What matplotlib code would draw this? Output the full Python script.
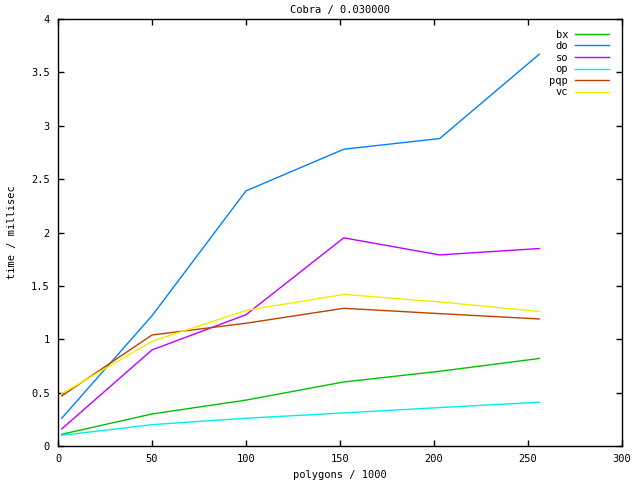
import matplotlib
matplotlib.use("Agg")
import matplotlib.pyplot as plt

# --- data ---
polygons = [2, 50, 100, 152, 203, 256]
series_names = ["bx", "do", "so", "op", "pqp", "vc"]
bx = [0.11, 0.30, 0.43, 0.60, 0.70, 0.82]
do = [0.26, 1.22, 2.39, 2.78, 2.88, 3.67]
so = [0.16, 0.90, 1.23, 1.95, 1.79, 1.85]
op = [0.10, 0.20, 0.26, 0.31, 0.36, 0.41]
pqp = [0.47, 1.04, 1.15, 1.29, 1.24, 1.19]
vc = [0.49, 0.98, 1.27, 1.42, 1.35, 1.26]
colors = ["#00c000", "#0080ff", "#c000ff", "#00eeee", "#c04000", "#eeee00"]

x_ticks = [0, 50, 100, 150, 200, 250, 300]
y_ticks = [0, 0.5, 1, 1.5, 2, 2.5, 3, 3.5, 4]
y_ticklabels = ["0", "0.5", "1", "1.5", "2", "2.5", "3", "3.5", "4"]

plt.rcParams["font.family"] = ["DejaVu Sans Mono"]
plt.rcParams["font.size"] = 7.5

fig = plt.figure(figsize=(6.4, 4.8), dpi=100)
ax = fig.add_axes([58 / 640, 34 / 480, 564 / 640, 427 / 480])

for name, vals, c in zip(series_names, [bx, do, so, op, pqp, vc], colors):
    ax.plot(polygons, vals, color=c, lw=1, label=name)

ax.set_xlim(0, 300)
ax.set_ylim(0, 4)
ax.set_xticks(x_ticks)
ax.set_yticks(y_ticks)
ax.set_yticklabels(y_ticklabels)
ax.tick_params(direction="in", length=4, width=1, top=True, right=True, pad=6)
for s in ax.spines.values():
    s.set_linewidth(1)

ax.set_title("Cobra / 0.030000", fontsize=7.5, pad=4)
ax.set_xlabel("polygons / 1000", labelpad=4)
ax.set_ylabel("time / millisec", labelpad=10)

# legend: labels on the left of short line samples, gnuplot style
leg = ax.legend(loc="upper right", frameon=False, markerfirst=False,
                handlelength=3.3, handletextpad=0.65, labelspacing=0.15,
                borderaxespad=0.0, bbox_to_anchor=(0.985, 0.985))

fig.savefig("out.png", dpi=100)
